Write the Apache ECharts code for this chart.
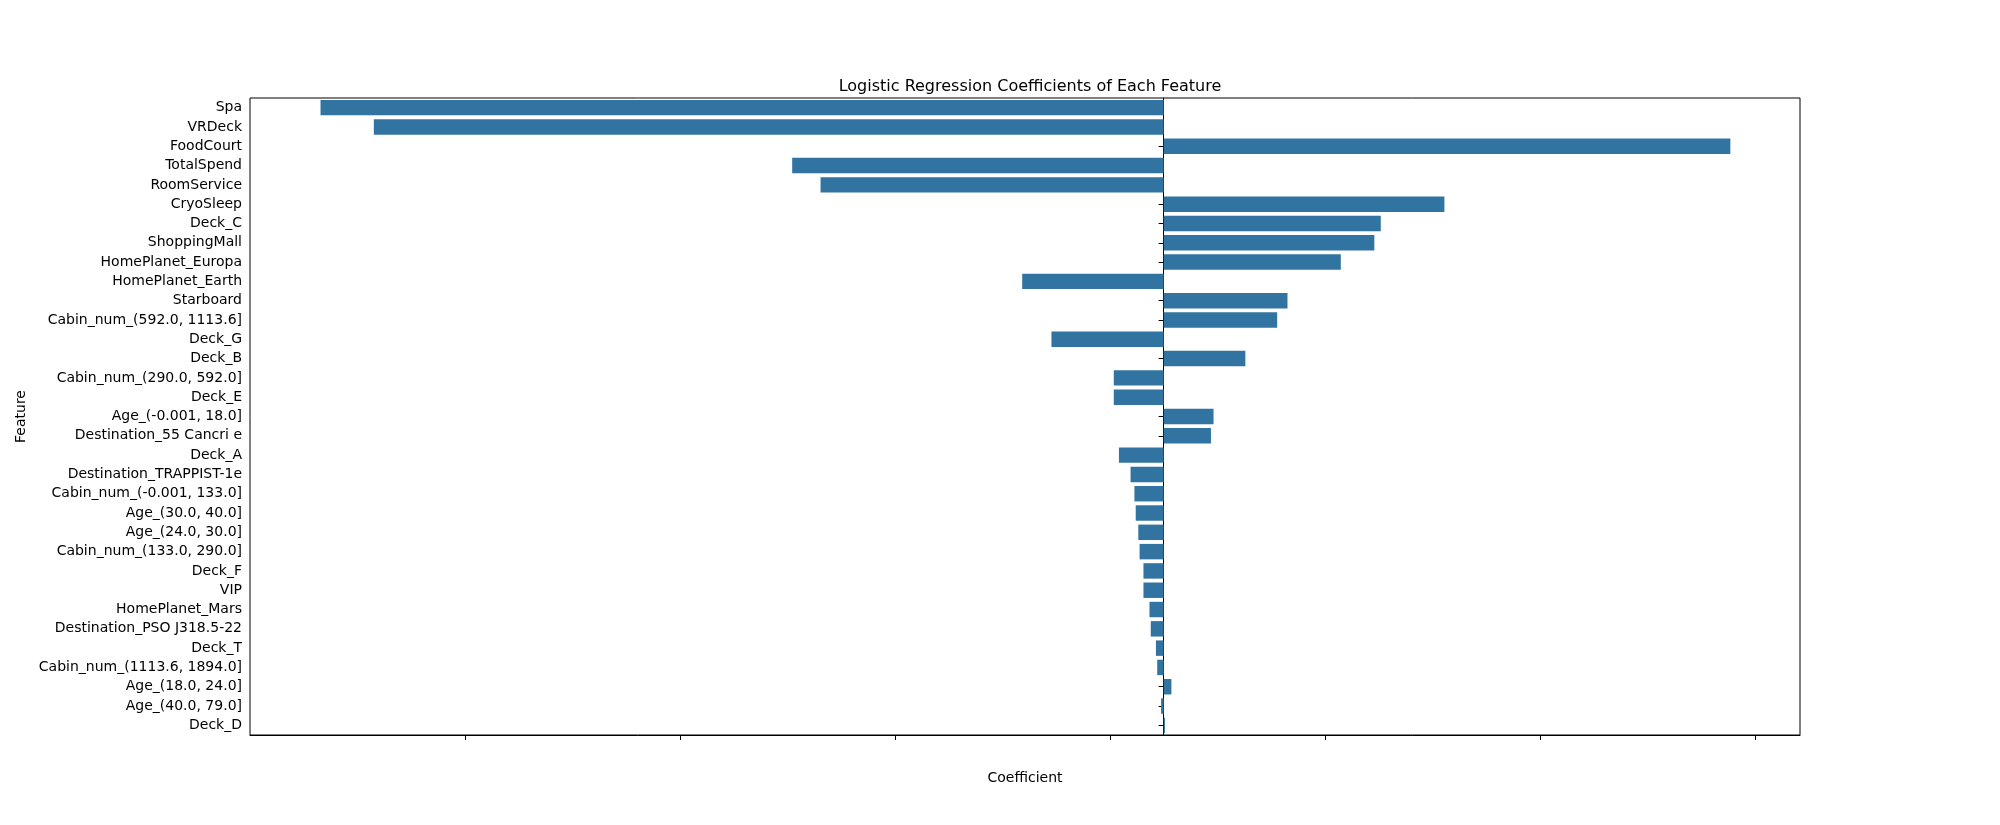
<!DOCTYPE html>
<html><head><meta charset="utf-8">
<script src="https://cdn.jsdelivr.net/npm/echarts@6/dist/echarts.min.js"></script>
<style>html,body{margin:0;padding:0;background:#fff}#c{width:2000px;height:825px}</style>
</head><body><div id="c"></div>
<script>
const features = ["Spa","VRDeck","FoodCourt","TotalSpend","RoomService","CryoSleep","Deck_C","ShoppingMall","HomePlanet_Europa","HomePlanet_Earth","Starboard","Cabin_num_(592.0, 1113.6]","Deck_G","Deck_B","Cabin_num_(290.0, 592.0]","Deck_E","Age_(-0.001, 18.0]","Destination_55 Cancri e","Deck_A","Destination_TRAPPIST-1e","Cabin_num_(-0.001, 133.0]","Age_(30.0, 40.0]","Age_(24.0, 30.0]","Cabin_num_(133.0, 290.0]","Deck_F","VIP","HomePlanet_Mars","Destination_PSO J318.5-22","Deck_T","Cabin_num_(1113.6, 1894.0]","Age_(18.0, 24.0]","Age_(40.0, 79.0]","Deck_D"];
const coefficients = [-1.961,-1.837,1.318,-0.864,-0.798,0.653,0.505,0.490,0.412,-0.329,0.288,0.264,-0.261,0.190,-0.116,-0.116,0.116,0.110,-0.104,-0.077,-0.068,-0.065,-0.059,-0.056,-0.047,-0.047,-0.033,-0.030,-0.018,-0.015,0.018,-0.006,0.003];
const chart = echarts.init(document.getElementById('c'));
const font = 'DejaVu Sans';
chart.setOption({
  animation:false,
  title:{text:'Logistic Regression Coefficients of Each Feature',left:1025,top:74,textAlign:'center',
    textStyle:{fontFamily:font,fontSize:16,fontWeight:'normal',color:'#000'}},
  grid:{left:250,right:200,top:98,bottom:90,show:true,borderColor:'#000',borderWidth:1,containLabel:false},
  xAxis:{type:'value',min:-2.125,max:1.48,interval:0.5,name:'Coefficient',nameLocation:'middle',nameGap:36,
    nameTextStyle:{fontFamily:font,fontSize:14,color:'#000'},
    axisLine:{show:true,onZero:false,lineStyle:{color:'#000'}},
    axisTick:{show:true,lineStyle:{color:'#000'},length:5},
    axisLabel:{fontFamily:font,fontSize:14,color:'#000',showMinLabel:false,showMaxLabel:false,
      formatter:v=>{const r=Math.round(v*10)/10; if(Math.abs(r*2-Math.round(r*2))>1e-6) return ''; return (r<0?'\u2212':'')+Math.abs(r).toFixed(1);}},
    splitLine:{show:false}},
  yAxis:{type:'category',data:features,inverse:true,name:'Feature',nameLocation:'middle',nameGap:222,
    nameTextStyle:{fontFamily:font,fontSize:14,color:'#000'},
    axisLine:{show:true,lineStyle:{color:'#000'}},
    axisTick:{show:true,alignWithLabel:true,lineStyle:{color:'#000'},length:5},
    axisLabel:{fontFamily:font,fontSize:14,color:'#000',interval:0}},
  series:[{type:'bar',data:coefficients,barWidth:'80%',itemStyle:{color:'#3274a1'}}]
});
</script></body></html>
